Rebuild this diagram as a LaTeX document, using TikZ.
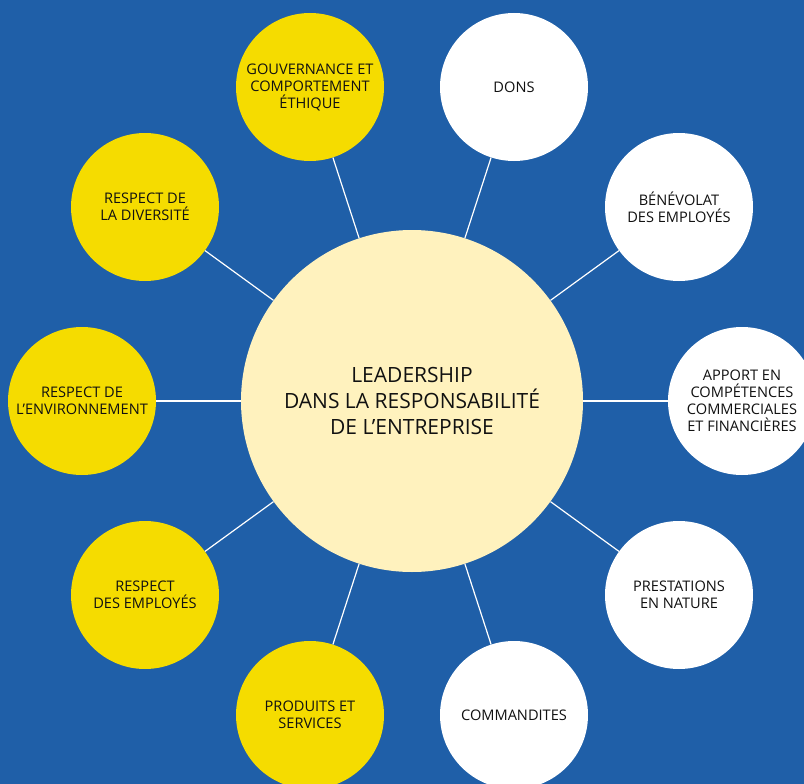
\documentclass[tikz,border=0pt]{standalone}
\usepackage{fontspec}
\setmainfont{Open Sans}
\definecolor{bgblue}{HTML}{1F5FA8}
\definecolor{ylw}{HTML}{F5DC00}
\definecolor{pale}{HTML}{FFF2BE}
\definecolor{ink}{HTML}{111111}
\tikzset{
  outer/.style={circle, minimum size=148pt, inner sep=0pt, align=center, text=ink,
    font=\fontsize{14.6}{17}\selectfont},
  yel/.style={outer, fill=ylw},
  wht/.style={outer, fill=white},
  hub/.style={circle, minimum size=342pt, inner sep=0pt, align=center, fill=pale, text=ink,
    font=\fontsize{21}{25.7}\selectfont},
  link/.style={draw=white, line width=1.2pt}
}
\begin{document}
\begin{tikzpicture}[x=1pt,y=-1pt]
\useasboundingbox (0,0) rectangle (804,784);
\clip (0,0) rectangle (804,784);
\fill[bgblue] (0,0) rectangle (804,784);
\node[hub] (c) at (412,401) {LEADERSHIP\\DANS LA RESPONSABILITÉ\\DE L’ENTREPRISE};
\node[wht] (dons) at (514,87) {DONS};
\node[wht] (benev) at (679,207) {BÉNÉVOLAT\\DES EMPLOYÉS};
\node[wht] (apport) at (742,401) {APPORT EN\\COMPÉTENCES\\COMMERCIALES\\ET FINANCIÈRES};
\node[wht] (prest) at (679,595) {PRESTATIONS\\EN NATURE};
\node[wht] (comm) at (514,715) {COMMANDITES};
\node[yel] (prod) at (310,715) {PRODUITS ET\\SERVICES};
\node[yel] (empl) at (145,595) {RESPECT\\DES EMPLOYÉS};
\node[yel] (env) at (82,401) {RESPECT DE\\L’ENVIRONNEMENT};
\node[yel] (div) at (145,207) {RESPECT DE\\LA DIVERSITÉ};
\node[yel] (gouv) at (310,87) {GOUVERNANCE ET\\COMPORTEMENT\\ÉTHIQUE};
\foreach \n in {dons,benev,apport,prest,comm,prod,empl,env,div,gouv}
  \draw[link] (c) -- (\n);
\end{tikzpicture}
\end{document}
